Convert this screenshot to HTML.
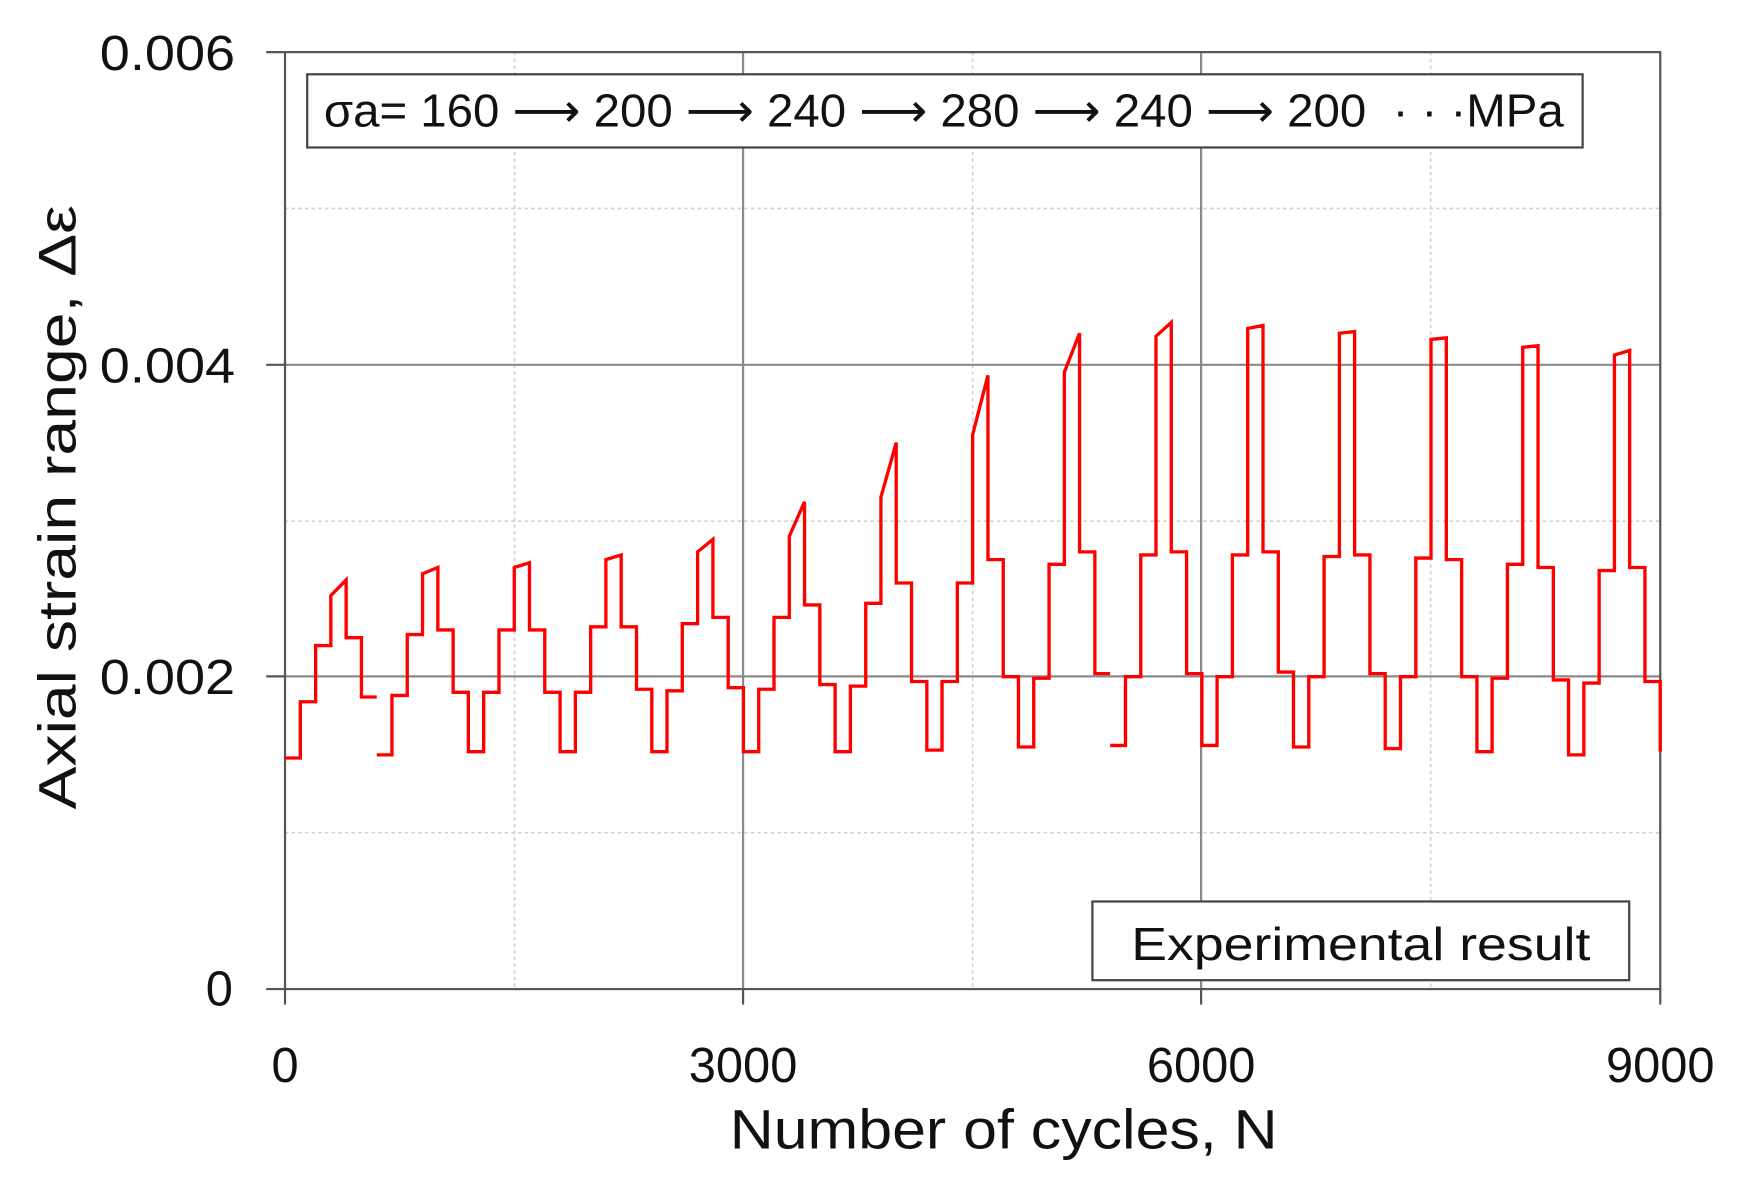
<!DOCTYPE html>
<html><head><meta charset="utf-8"><style>
html,body{margin:0;padding:0;background:#fff;}
svg{display:block;}
text{font-family:"Liberation Sans","DejaVu Sans",sans-serif;fill:#111;}
</style></head><body>
<svg id="s" width="1739" height="1182" viewBox="0 0 1568 1066" preserveAspectRatio="none" xmlns="http://www.w3.org/2000/svg">
<rect width="1568" height="1066" fill="#fff"/>
<g stroke="#d0d0d0" stroke-width="1.5" stroke-dasharray="3,3">
<line x1="257" x2="1497" y1="188" y2="188"/>
<line x1="257" x2="1497" y1="470" y2="470"/>
<line x1="257" x2="1497" y1="751" y2="751"/>
<line x1="464" x2="464" y1="47" y2="892"/>
<line x1="877" x2="877" y1="47" y2="892"/>
<line x1="1290" x2="1290" y1="47" y2="892"/>
</g>
<g stroke="#8a8a8a" stroke-width="2">
<line x1="257" x2="1497" y1="329" y2="329"/>
<line x1="257" x2="1497" y1="610" y2="610"/>
<line x1="670" x2="670" y1="47" y2="892"/>
<line x1="1083" x2="1083" y1="47" y2="892"/>
</g>
<rect x="257" y="47" width="1240" height="845" fill="none" stroke="#555" stroke-width="2"/>
<g stroke="#555" stroke-width="2">
<line x1="240" x2="257" y1="47" y2="47"/><line x1="240" x2="257" y1="329" y2="329"/>
<line x1="240" x2="257" y1="610" y2="610"/><line x1="240" x2="257" y1="892" y2="892"/>
<line x1="257" x2="257" y1="892" y2="906"/><line x1="670" x2="670" y1="892" y2="906"/>
<line x1="1083" x2="1083" y1="892" y2="906"/><line x1="1497" x2="1497" y1="892" y2="906"/>
</g>
<path id="p" fill="none" stroke="#ff0000" stroke-width="3" stroke-linejoin="miter"/>
<g font-size="44" text-anchor="end">
<text x="212" y="63" textLength="122" lengthAdjust="spacingAndGlyphs">0.006</text>
<text x="212" y="345" textLength="122" lengthAdjust="spacingAndGlyphs">0.004</text>
<text x="212" y="626" textLength="122" lengthAdjust="spacingAndGlyphs">0.002</text>
<text x="210" y="907">0</text>
</g>
<g font-size="44" text-anchor="middle">
<text x="257" y="976">0</text><text x="670" y="976">3000</text>
<text x="1083" y="976">6000</text><text x="1497" y="976">9000</text>
</g>
<text x="658" y="1036" font-size="50" textLength="494" lengthAdjust="spacingAndGlyphs">Number of cycles, N</text>
<text transform="translate(68,730) rotate(-90)" font-size="48" textLength="545" lengthAdjust="spacingAndGlyphs">Axial strain range, Δε</text>
<rect x="277" y="67" width="1150" height="66" fill="#fff" stroke="#444" stroke-width="2"/>
<text x="292" y="114" font-size="42" textLength="1118" lengthAdjust="spacingAndGlyphs">σa= 160 ⟶ 200 ⟶ 240 ⟶ 280 ⟶ 240 ⟶ 200 &#160;· · ·MPa</text>
<rect x="985" y="813" width="484" height="71" fill="#fff" stroke="#444" stroke-width="2"/>
<text x="1020" y="866" font-size="42" textLength="414" lengthAdjust="spacingAndGlyphs">Experimental result</text>
<script>
var X=function(n){return 257+n*1240/9000;},Y=function(v){return 892-v*140.83;};
var B=[
[1.48,1.84,2.2,2.52,2.62,2.25,1.87],
[1.5,1.88,2.27,2.66,2.7,2.3,1.9],
[1.52,1.9,2.3,2.7,2.73,2.3,1.9],
[1.52,1.9,2.32,2.75,2.78,2.32,1.92],
[1.52,1.91,2.34,2.8,2.88,2.38,1.93],
[1.52,1.92,2.38,2.9,3.12,2.46,1.95],
[1.52,1.94,2.47,3.15,3.5,2.6,1.97],
[1.53,1.97,2.6,3.55,3.93,2.75,2.0],
[1.55,1.99,2.72,3.95,4.2,2.8,2.02],
[1.56,2.0,2.78,4.18,4.27,2.8,2.02],
[1.56,2.0,2.78,4.23,4.25,2.8,2.03],
[1.55,2.0,2.77,4.2,4.21,2.78,2.02],
[1.54,2.0,2.76,4.16,4.17,2.75,2.0],
[1.52,1.99,2.72,4.11,4.12,2.7,1.98],
[1.5,1.96,2.68,4.06,4.09,2.7,1.97]];
var d="";
for(var i=0;i<15;i++){var b=B[i],s=i*600;
 var segs=[[0,b[0],b[0]],[100,b[1],b[1]],[200,b[2],b[2]],[300,b[3],b[4]],[400,b[5],b[5]],[500,b[6],b[6]]];
 for(var k=0;k<6;k++){var g=segs[k];
  var x0=X(s+g[0]),x1=X(s+g[0]+100);
  if(k==0&&(i==0||i==1||i==9)) d+="M"+x0.toFixed(1)+","+Y(g[1]).toFixed(1);
  else d+="L"+x0.toFixed(1)+","+Y(g[1]).toFixed(1);
  d+="L"+x1.toFixed(1)+","+Y(g[2]).toFixed(1);
 }
}
d+="L"+X(9000).toFixed(1)+","+Y(1.52).toFixed(1);
document.getElementById("p").setAttribute("d",d);
</script>
</svg>
</body></html>
